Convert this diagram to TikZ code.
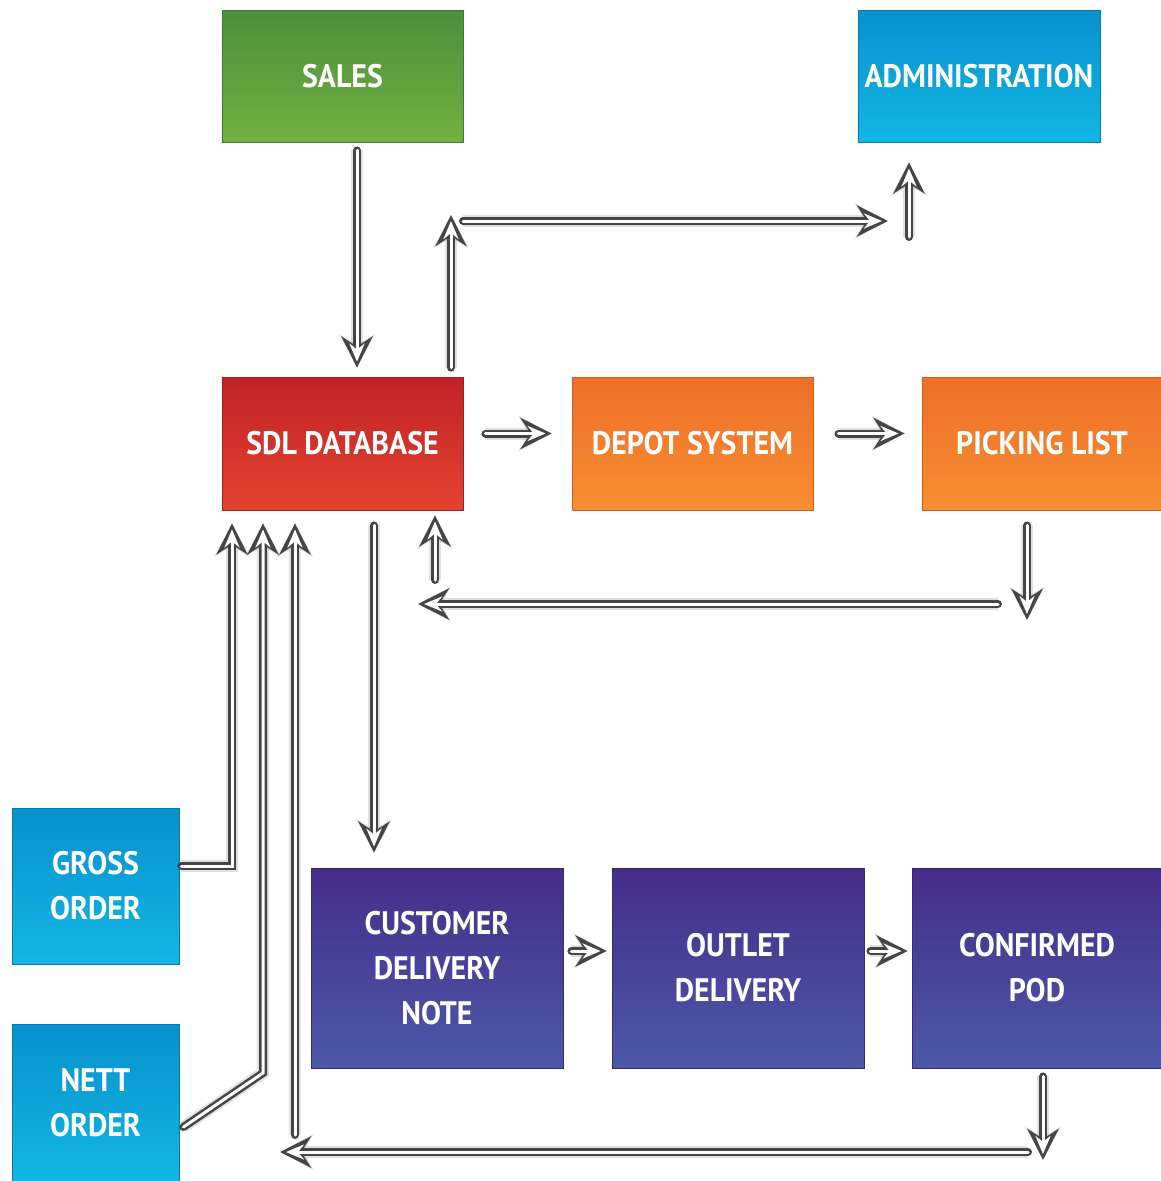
\documentclass[tikz,border=0pt]{standalone}
\usepackage{fontspec}
\newfontfamily\boxfont[FakeStretch=0.92]{PT Sans}
\usetikzlibrary{arrows.meta,shadows,calc}

\definecolor{greenT}{HTML}{4A8F3A}\definecolor{greenB}{HTML}{74B142}
\definecolor{blueT}{HTML}{0891CC}\definecolor{blueB}{HTML}{12B6E4}
\definecolor{redT}{HTML}{BF2227}\definecolor{redB}{HTML}{E4432F}
\definecolor{orangeT}{HTML}{EE6F27}\definecolor{orangeB}{HTML}{F68E32}
\definecolor{purpleT}{HTML}{452E8A}\definecolor{purpleB}{HTML}{4B58A8}
\definecolor{pipegray}{HTML}{454545}

\tikzset{
  box/.style={rectangle, inner sep=0pt, align=center, text=white,
    font=\boxfont\bfseries\fontsize{32.5}{45}\selectfont, line width=0.8pt,
    drop shadow={shadow xshift=1.2pt, shadow yshift=-1.2pt, opacity=.3}},
  topbox/.style={box, minimum width=241pt, minimum height=132pt},
  midbox/.style={box, minimum width=241pt, minimum height=133pt},
  sidebox/.style={box, minimum width=167pt, minimum height=156pt},
  lowbox/.style={box, minimum width=252pt, minimum height=200pt},
  greenfill/.style={top color=greenT, bottom color=greenB, draw=greenT!85!black},
  bluefill/.style={top color=blueT, bottom color=blueB, draw=blueT!85!black},
  redfill/.style={top color=redT, bottom color=redB, draw=redT!85!black},
  orangefill/.style={top color=orangeT, bottom color=orangeB, draw=orangeT!85!black},
  purplefill/.style={top color=purpleT, bottom color=purpleB, draw=purpleT!85!black},
  pipe/.style={draw=pipegray, line width=8pt, line cap=round,
    -{Stealth[length=31pt,width=31pt,inset=10pt]},
    preaction={draw=black, draw opacity=.12, line width=12pt,
      -{Stealth[length=33pt,width=35pt,inset=10pt]}},
    postaction={draw=white, line width=3pt, shorten >=6pt,
      -{Stealth[length=18pt,width=15pt,inset=6pt]}}},
}

\begin{document}
\begin{tikzpicture}[x=1pt, y=-1pt]
\useasboundingbox (0,0) rectangle (1161,1181);

% boxes
\node[topbox, greenfill] (sales) at (342.5,76) {SALES};
\node[topbox, bluefill, minimum width=242pt] (admin) at (979,76) {ADMINISTRATION};
\node[midbox, redfill] (sdl) at (342.5,443.5) {SDL DATABASE};
\node[midbox, orangefill] (depot) at (692.5,443.5) {DEPOT SYSTEM};
\node[midbox, orangefill, minimum width=240pt] (pick) at (1042,443.5) {PICKING LIST};
\node[sidebox, bluefill] (gross) at (95.5,886) {GROSS\\ORDER};
\node[sidebox, bluefill, minimum height=158pt] (nett) at (95.5,1103) {NETT\\ORDER};
\node[lowbox, purplefill] (cdn) at (437,968) {CUSTOMER\\DELIVERY\\NOTE};
\node[lowbox, purplefill] (outlet) at (738,968) {OUTLET\\DELIVERY};
\node[lowbox, purplefill, minimum width=250pt] (pod) at (1037,968) {CONFIRMED\\POD};

% free ends of the connectors
\coordinate (upTip) at (451,215);
\coordinate (topL) at (463,221);
\coordinate (topR) at (888,221);
\coordinate (adminLow) at (909,237);
\coordinate (pickTip) at (1027,620);
\coordinate (retR) at (998,604);
\coordinate (retL) at (418,604);
\coordinate (retUp) at (435,580);
\coordinate (grossBend) at (232,866);
\coordinate (nettBend) at (263,1073);
\coordinate (podLow) at (295,1135);
\coordinate (botR) at (1028,1152);
\coordinate (botL) at (280,1152);
\coordinate (podTip) at (1043,1160);

% connectors
\draw[pipe] ($(sales.south)+(14.5,8)$) -- ($(sdl.north)+(14.5,-9)$);
\draw[pipe] ($(sdl.north)+(108.5,-9)$) -- (upTip);
\draw[pipe] (topL) -- (topR);
\draw[pipe] (adminLow) -- ($(admin.south)+(-70,20)$);
\draw[pipe] ($(sdl.east)+(22,-10)$) -- ($(depot.west)+(-20,-10)$);
\draw[pipe] ($(depot.east)+(25,-10)$) -- ($(pick.west)+(-17,-10)$);
\draw[pipe] ($(pick.south)+(-15,15)$) -- (pickTip);
\draw[pipe] (retR) -- (retL);
\draw[pipe] (retUp) -- ($(sdl.south)+(92.5,5)$);
\draw[pipe] ($(sdl.south)+(31.5,15)$) -- ($(cdn.north)+(-63,-15)$);
\draw[pipe] ($(gross.east)+(2,-20)$) -- (grossBend) -- ($(sdl.south)+(-110.5,13)$);
\draw[pipe] ($(nett.east)+(4,24)$) -- (nettBend) -- ($(sdl.south)+(-79.5,13)$);
\draw[pipe] (podLow) -- ($(sdl.south)+(-47.5,13)$);
\draw[pipe] (botR) -- (botL);
\draw[pipe] ($(pod.south)+(6,8)$) -- (podTip);
\draw[pipe] ($(cdn.east)+(8,-17)$) -- ($(outlet.west)+(-5,-17)$);
\draw[pipe] ($(outlet.east)+(6,-17)$) -- ($(pod.west)+(-4,-17)$);
\end{tikzpicture}
\end{document}
